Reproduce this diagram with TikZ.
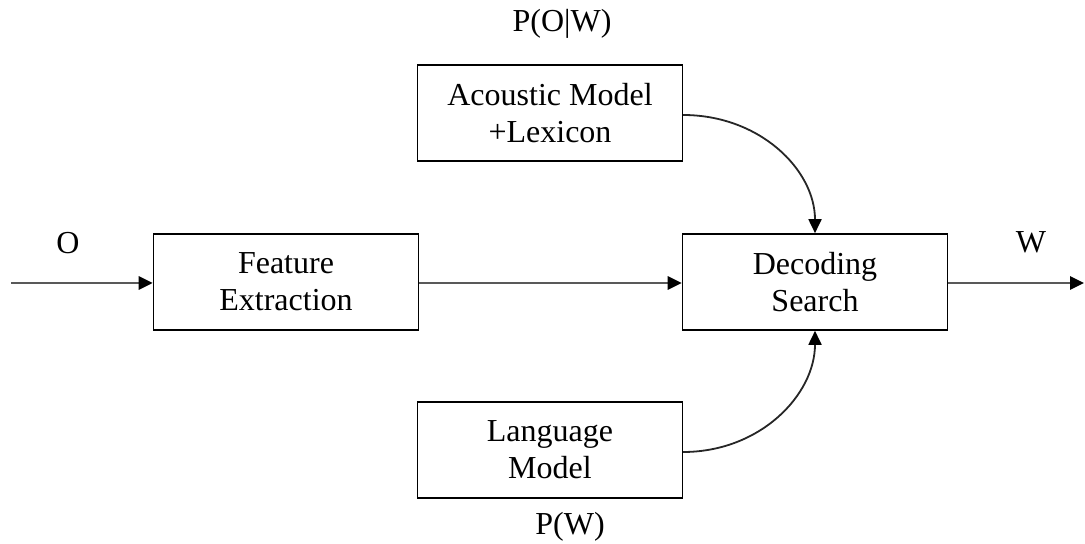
\documentclass[tikz,border=0pt]{standalone}
\usepackage{fontspec}
\setmainfont{Liberation Serif}
\usetikzlibrary{arrows.meta}
\begin{document}
\begin{tikzpicture}[x=0.5pt,y=-0.5pt,
  blk/.style={draw=black,line width=0.8pt,minimum width=132.5pt,minimum height=48pt,inner sep=0pt,align=center,font=\fontsize{16}{18.5}\selectfont},
  lbl/.style={inner sep=0pt,font=\fontsize{16}{18.5}\selectfont},
  flow/.style={draw=black!65,line width=1.4pt,-{Triangle[length=7pt,width=6.5pt,fill=black,color=black]}},
  curvearrow/.style={draw=black!85,line width=0.9pt,-{Triangle[length=7pt,width=6.5pt,fill=black,color=black]}}]
\useasboundingbox (0,0) rectangle (1085,544);
\node[blk] (fe) at (286,282) {Feature\\Extraction};
\node[blk] (ds) at (815,282) {Decoding\\Search};
\node[blk] (am) at (550,113) {Acoustic Model\\+Lexicon};
\node[blk] (lm) at (550,450) {Language\\Model};
\coordinate (in) at (11,283);
\coordinate (out) at (1084,283);
\coordinate (amr) at (683,115);
\coordinate (lmr) at (683,452);
\node[lbl] (o) at (68,243) {O};
\node[lbl] (w) at (1031,242) {W};
\node[lbl] (pow) at (562,24) {P(O|W)};
\node[lbl] (pw) at (570,527) {P(W)};
\draw[flow] (in) -- (in -| fe.west);
\draw[flow] (fe.east |- in) -- (ds.west |- in);
\draw[flow] (ds.east |- in) -- (out);
\draw[curvearrow] (amr) .. controls (760,115) and (815,170) .. (ds.north);
\draw[curvearrow] (lmr) .. controls (760,452) and (815,395) .. (ds.south);
\end{tikzpicture}
\end{document}
